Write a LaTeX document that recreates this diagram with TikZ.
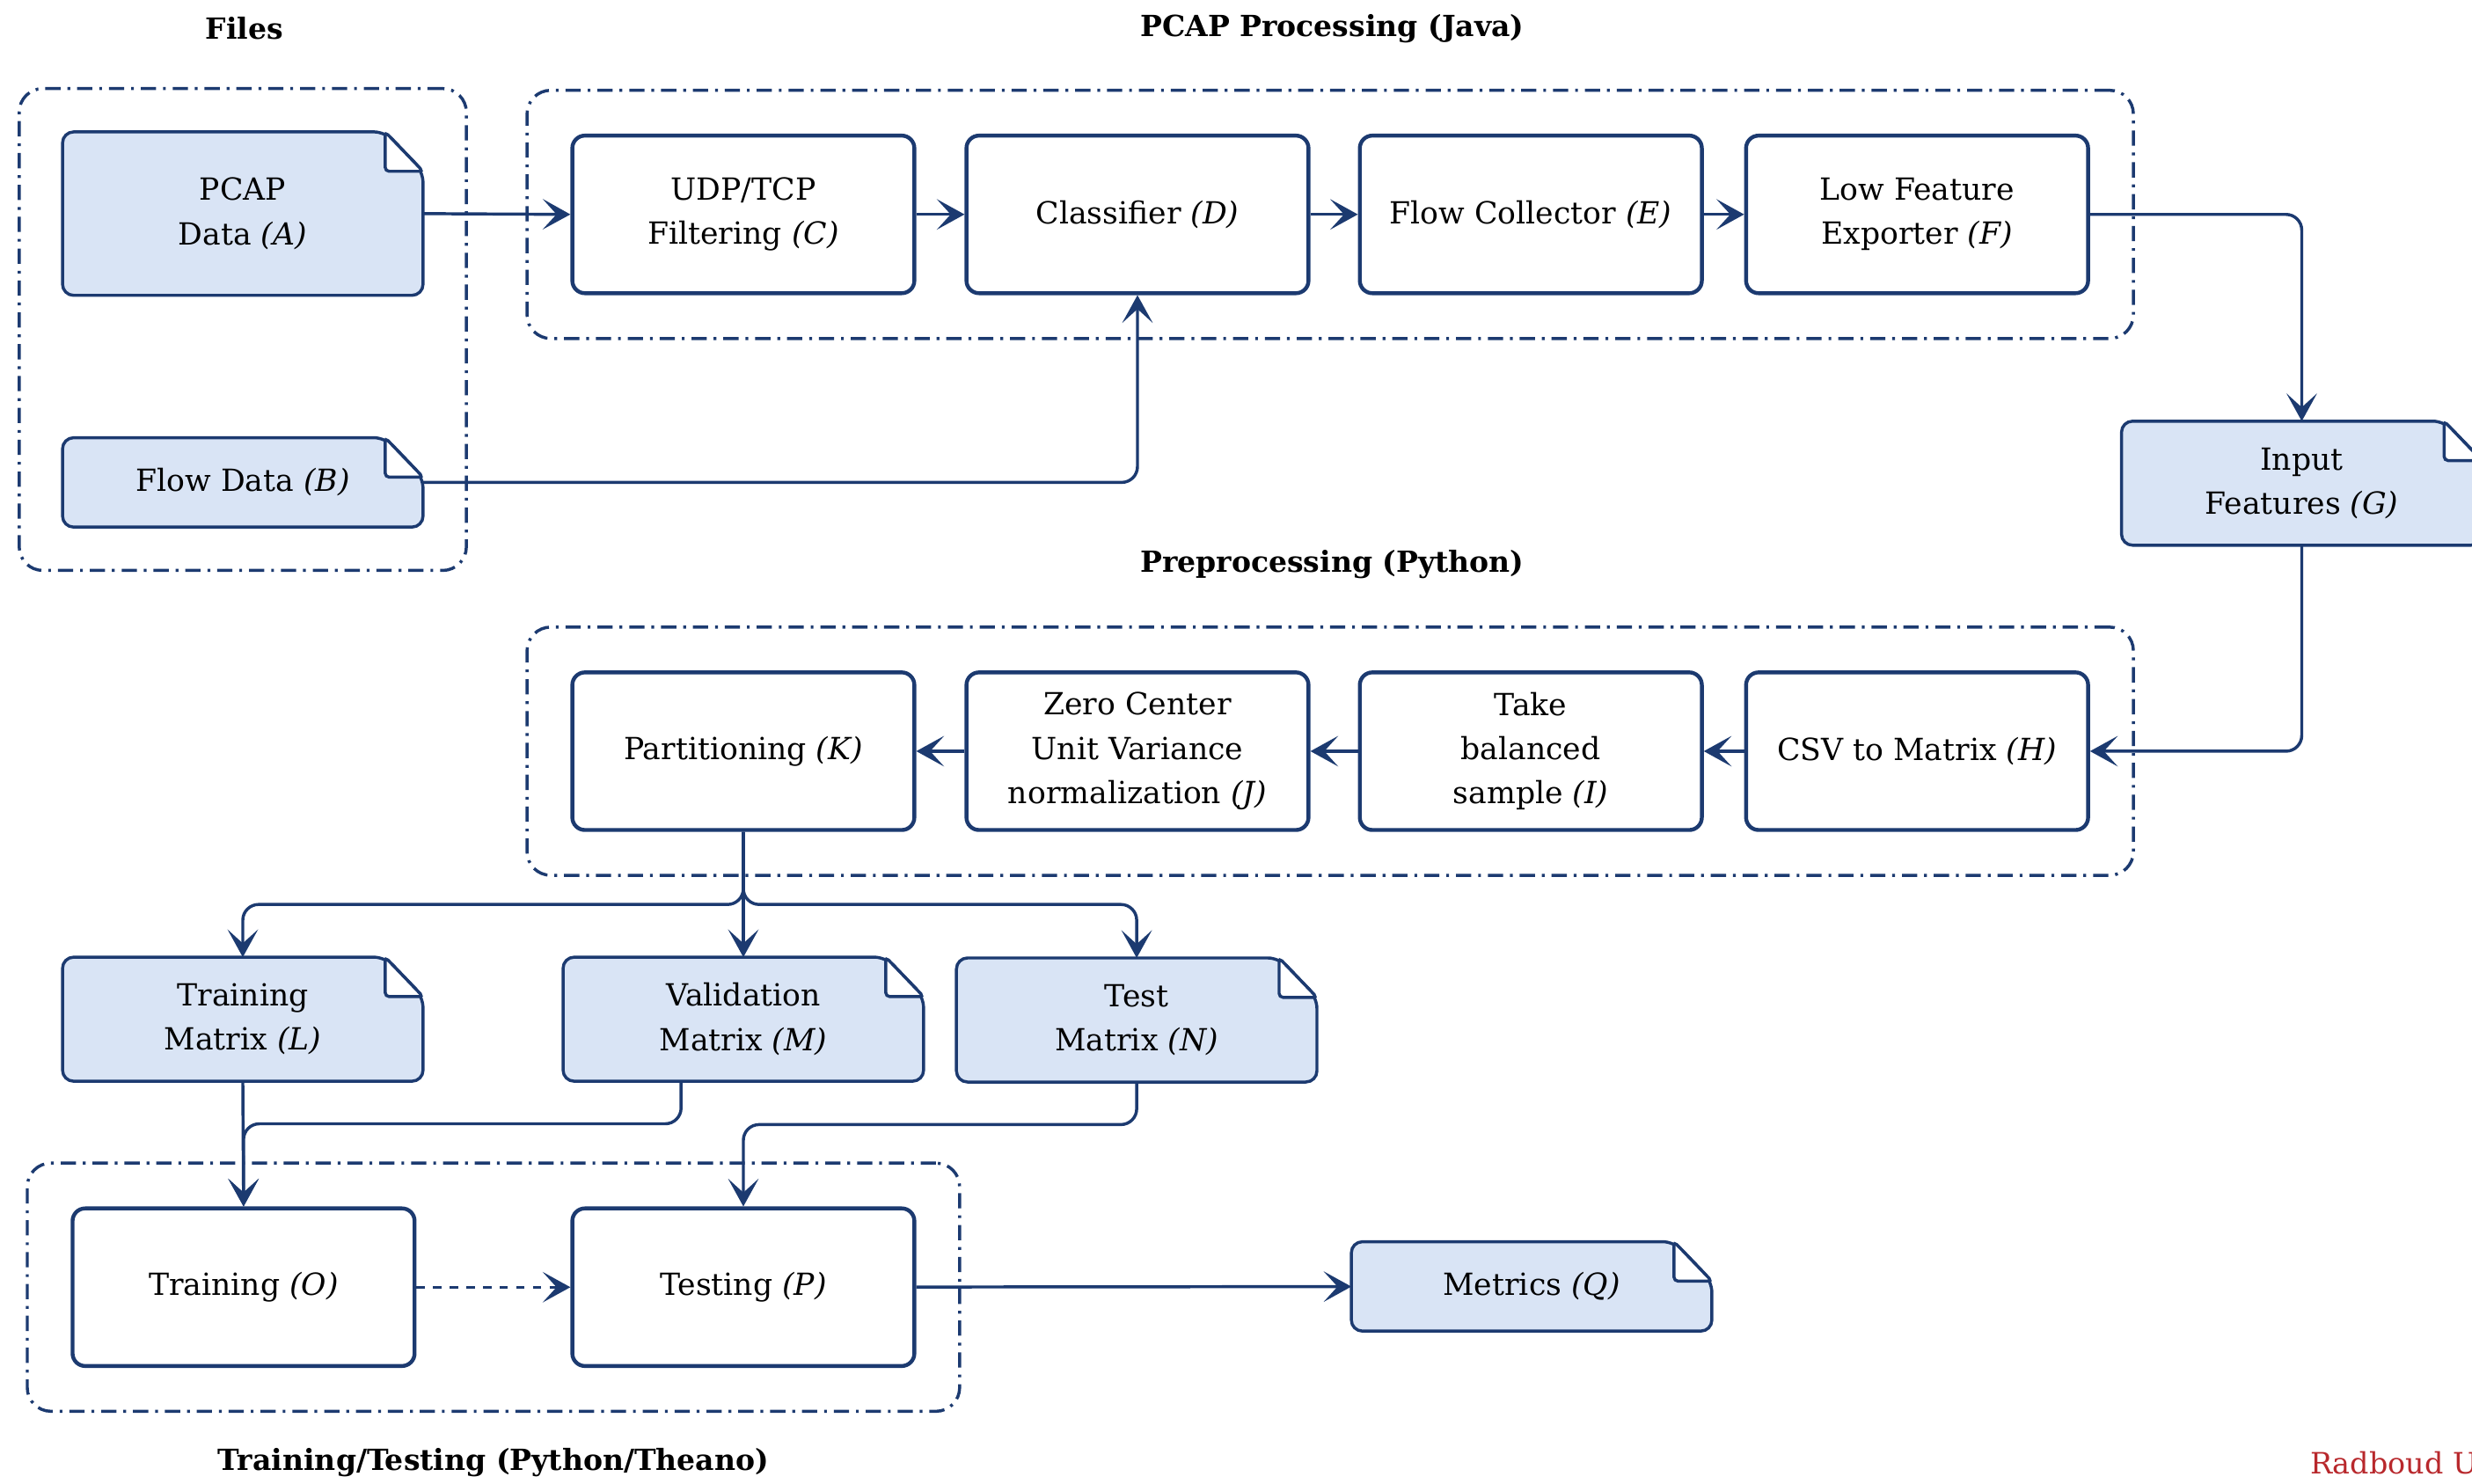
\documentclass[tikz,border=0pt]{standalone}
\usepackage{fontspec}
\setmainfont{DejaVu Serif}
\usepackage{xcolor}
\usepackage{tikz}
\usetikzlibrary{arrows.meta,fit,backgrounds}
\definecolor{flowNavy}{HTML}{1C3A70}
\definecolor{flowFill}{HTML}{D9E4F5}
\definecolor{radRed}{HTML}{B8282C}

\tikzset{
  proc/.style={draw=flowNavy, line width=1.4pt, rounded corners=0.16cm, fill=white,
    minimum width=4.34cm, minimum height=2cm, align=center, inner sep=2pt,
    font=\fontsize{11}{16}\selectfont},
  doc/.style={minimum width=4.56cm, align=center, inner sep=2pt,
    font=\fontsize{11}{16}\selectfont},
  docline/.style={draw=flowNavy, line width=1.1pt, fill=flowFill, rounded corners=0.14cm},
  group/.style={draw=flowNavy, line width=1.1pt, rounded corners=0.3cm, inner sep=0.55cm,
    dash pattern=on 5.5pt off 2.5pt on 1pt off 2.5pt},
  title/.style={font=\fontsize{10.5}{12}\selectfont\bfseries},
  conn/.style={draw=flowNavy, line width=1.1pt, rounded corners=0.2cm,
    -{Stealth[length=10pt,width=11pt,inset=5pt]}},
}

\begin{document}
\begin{tikzpicture}[x=0.02cm, y=-0.02cm]
  \useasboundingbox (0,0) rectangle (1568,941);

  % files
  \node[doc, minimum height=2.06cm] (A) at (154,135.5) {PCAP\\Data \textit{(A)}};
  \node[doc, minimum height=1.12cm] (B) at (154,306) {Flow Data \textit{(B)}};

  % pcap processing
  \node[proc] (C) at (471.5,136) {UDP/TCP\\Filtering \textit{(C)}};
  \node[proc] (D) at (721.5,136) {Classifier \textit{(D)}};
  \node[proc] (E) at (971,136) {Flow Collector \textit{(E)}};
  \node[proc] (F) at (1216,136) {Low Feature\\Exporter \textit{(F)}};

  \node[doc, minimum height=1.56cm] (G) at (1460,306.5) {Input\\Features \textit{(G)}};

  % preprocessing
  \node[proc] (H) at (1216,476.5) {CSV to Matrix \textit{(H)}};
  \node[proc] (I) at (971,476.5) {Take\\balanced\\sample \textit{(I)}};
  \node[proc] (J) at (721.5,476.5) {Zero Center\\Unit Variance\\normalization \textit{(J)}};
  \node[proc] (K) at (471.5,476.5) {Partitioning \textit{(K)}};

  \node[doc, minimum height=1.56cm] (L) at (154,646.5) {Training\\Matrix \textit{(L)}};
  \node[doc, minimum height=1.56cm] (M) at (471.5,646.5) {Validation\\Matrix \textit{(M)}};
  \node[doc, minimum height=1.56cm] (N) at (721,647) {Test\\Matrix \textit{(N)}};

  % training / testing
  \node[proc] (O) at (154.5,816.5) {Training \textit{(O)}};
  \node[proc] (P) at (471.5,816.5) {Testing \textit{(P)}};
  \node[doc, minimum height=1.12cm] (Q) at (971.5,816) {Metrics \textit{(Q)}};

  % document outlines
  \begin{scope}[on background layer]
    \foreach \n in {A,B,G,L,M,N,Q}{
      \draw[docline] ([xshift=-0.48cm]\n.north east) -- ([yshift=-0.5cm]\n.north east)
        -- (\n.south east) -- (\n.south west) -- (\n.north west) -- cycle;
      \draw[docline, fill=white, rounded corners=0.05cm] ([xshift=-0.48cm]\n.north east)
        |- ([yshift=-0.5cm]\n.north east) -- cycle;
    }
  \end{scope}

  % groups
  \node[group, fit=(A)(B)] (files) {};
  \node[group, fit=(C)(F)] (pcap) {};
  \node[group, fit=(H)(K)] (prep) {};
  \node[group, fit=(O)(P)] (train) {};

  \node[title] (tFiles) at (155,18) {Files};
  \node[title] (tPcap) at (845,18) {PCAP Processing (Java)};
  \node[title] (tPrep) at (845,358) {Preprocessing (Python)};
  \node[title] (tTrain) at (313,928) {Training/Testing (Python/Theano)};

  \node[font=\fontsize{10.6}{13}\selectfont, text=radRed, anchor=west, inner sep=0pt] (radboud) at (1465,928) {Radboud U};

  % connectors
  \draw[conn] (A.east) -- (C.west);
  \draw[conn] (C) -- (D);
  \draw[conn] (D) -- (E);
  \draw[conn] (E) -- (F);
  \draw[conn] (F.east) -| (G.north);
  \draw[conn] (B.east) -| (D.south);
  \draw[conn] (G.south) |- (H.east);
  \draw[conn] (H) -- (I);
  \draw[conn] (I) -- (J);
  \draw[conn] (J) -- (K);
  \draw[conn] (K.south) -- ++(0,46) -| (L.north);
  \draw[conn] (K.south) -- (M.north);
  \draw[conn] (K.south) -- ++(0,46) -| (N.north);
  \draw[conn] (L.south) -- (O.north);
  \draw[conn] ([xshift=-0.79cm]M.south) -- ++(0,27) -| (O.north);
  \draw[conn] (N.south) -- ++(0,27) -| (P.north);
  \draw[conn, dashed] (O) -- (P);
  \draw[conn] (P) -- (Q);
\end{tikzpicture}
\end{document}
